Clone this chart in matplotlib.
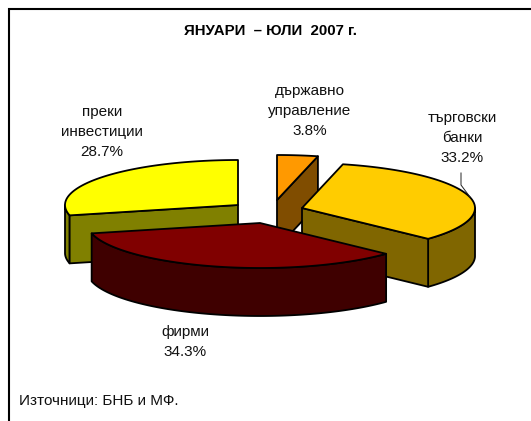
import numpy as np
import matplotlib
matplotlib.use("Agg")
import matplotlib.pyplot as plt

plt.rcParams['font.family'] = ['Liberation Sans', 'DejaVu Sans']

# counter-clockwise from 12 o'clock
names = ['преки\nинвестиции', 'фирми', 'търговски\nбанки', 'държавно\nуправление']
values = [28.7, 34.3, 33.2, 3.8]
top_colors = ['#FFFF00', '#800000', '#FFCC00', '#FF9900']
side_colors = ['#808000', '#3F0000', '#806600', '#804D00']

# apex of each exploded slice, in image pixels
apex_x = [238, 260, 302, 277]
apex_y = [205, 223, 208, 200]
label_x = [102, 185, 462, 310]
label_y = [132, 342, 138, 111]

RX = 173
RY = 45
DEPTH = 48
EDGE = 1.3


def rim(start, end, cx, cy):
    t = np.radians(np.linspace(start, end, 120))
    return cx + RX * np.cos(t), cy - RY * np.sin(t)


def face(ax, x, y, color):
    ax.fill(x, y, facecolor=color, edgecolor='black', linewidth=EDGE, joinstyle='round')


def draw_slice(ax, i, start, end):
    cx, cy = apex_x[i], apex_y[i]
    rx, ry = rim(start, end, cx, cy)

    # outer wall, only the part on the front half of the ellipse
    lo = max(start, 180)
    hi = min(end, 360)
    if lo < hi:
        wx, wy = rim(lo, hi, cx, cy)
        face(ax, np.r_[wx, wx[::-1]], np.r_[wy, wy[::-1] + DEPTH], side_colors[i])

    # cut walls facing the viewer
    if i == 0:
        ex, ey = rx[-1], ry[-1]
    elif i == 2 or i == 3:
        ex, ey = rx[0], ry[0]
    else:
        ex = None
    if ex is not None:
        face(ax, [cx, ex, ex, cx], [cy, ey, ey + DEPTH, cy + DEPTH], side_colors[i])

    face(ax, np.r_[cx, rx], np.r_[cy, ry], top_colors[i])


fig = plt.figure(figsize=(5.31, 4.21), dpi=100)
ax = fig.add_axes([0, 0, 1, 1])
ax.set_xlim(0, 531)
ax.set_ylim(421, 0)
ax.axis('off')

# frame has only the left and top side inside the crop
ax.plot([9, 9, 531], [421, 9, 9], color='black', linewidth=1.5, solid_joinstyle='miter')

angles = 90 + np.r_[0, np.cumsum(values)] * 3.6
for i in [3, 0, 2, 1]:
    draw_slice(ax, i, angles[i], angles[i + 1])

ax.plot([461, 461, 470], [173, 185, 197], color='#222222', linewidth=0.7)

ax.text(270, 31, 'ЯНУАРИ  – ЮЛИ  2007 г.', ha='center', va='center', fontsize=10.8, fontweight='bold')
for i in range(4):
    txt = f'{names[i]}\n{values[i]}%'
    ax.text(label_x[i], label_y[i], txt, ha='center', va='center', fontsize=11, linespacing=1.55, color='#111111')
ax.text(19, 401, 'Източници: БНБ и МФ.', ha='left', va='center', fontsize=11, color='#111111')

fig.savefig('out.png', dpi=100)
